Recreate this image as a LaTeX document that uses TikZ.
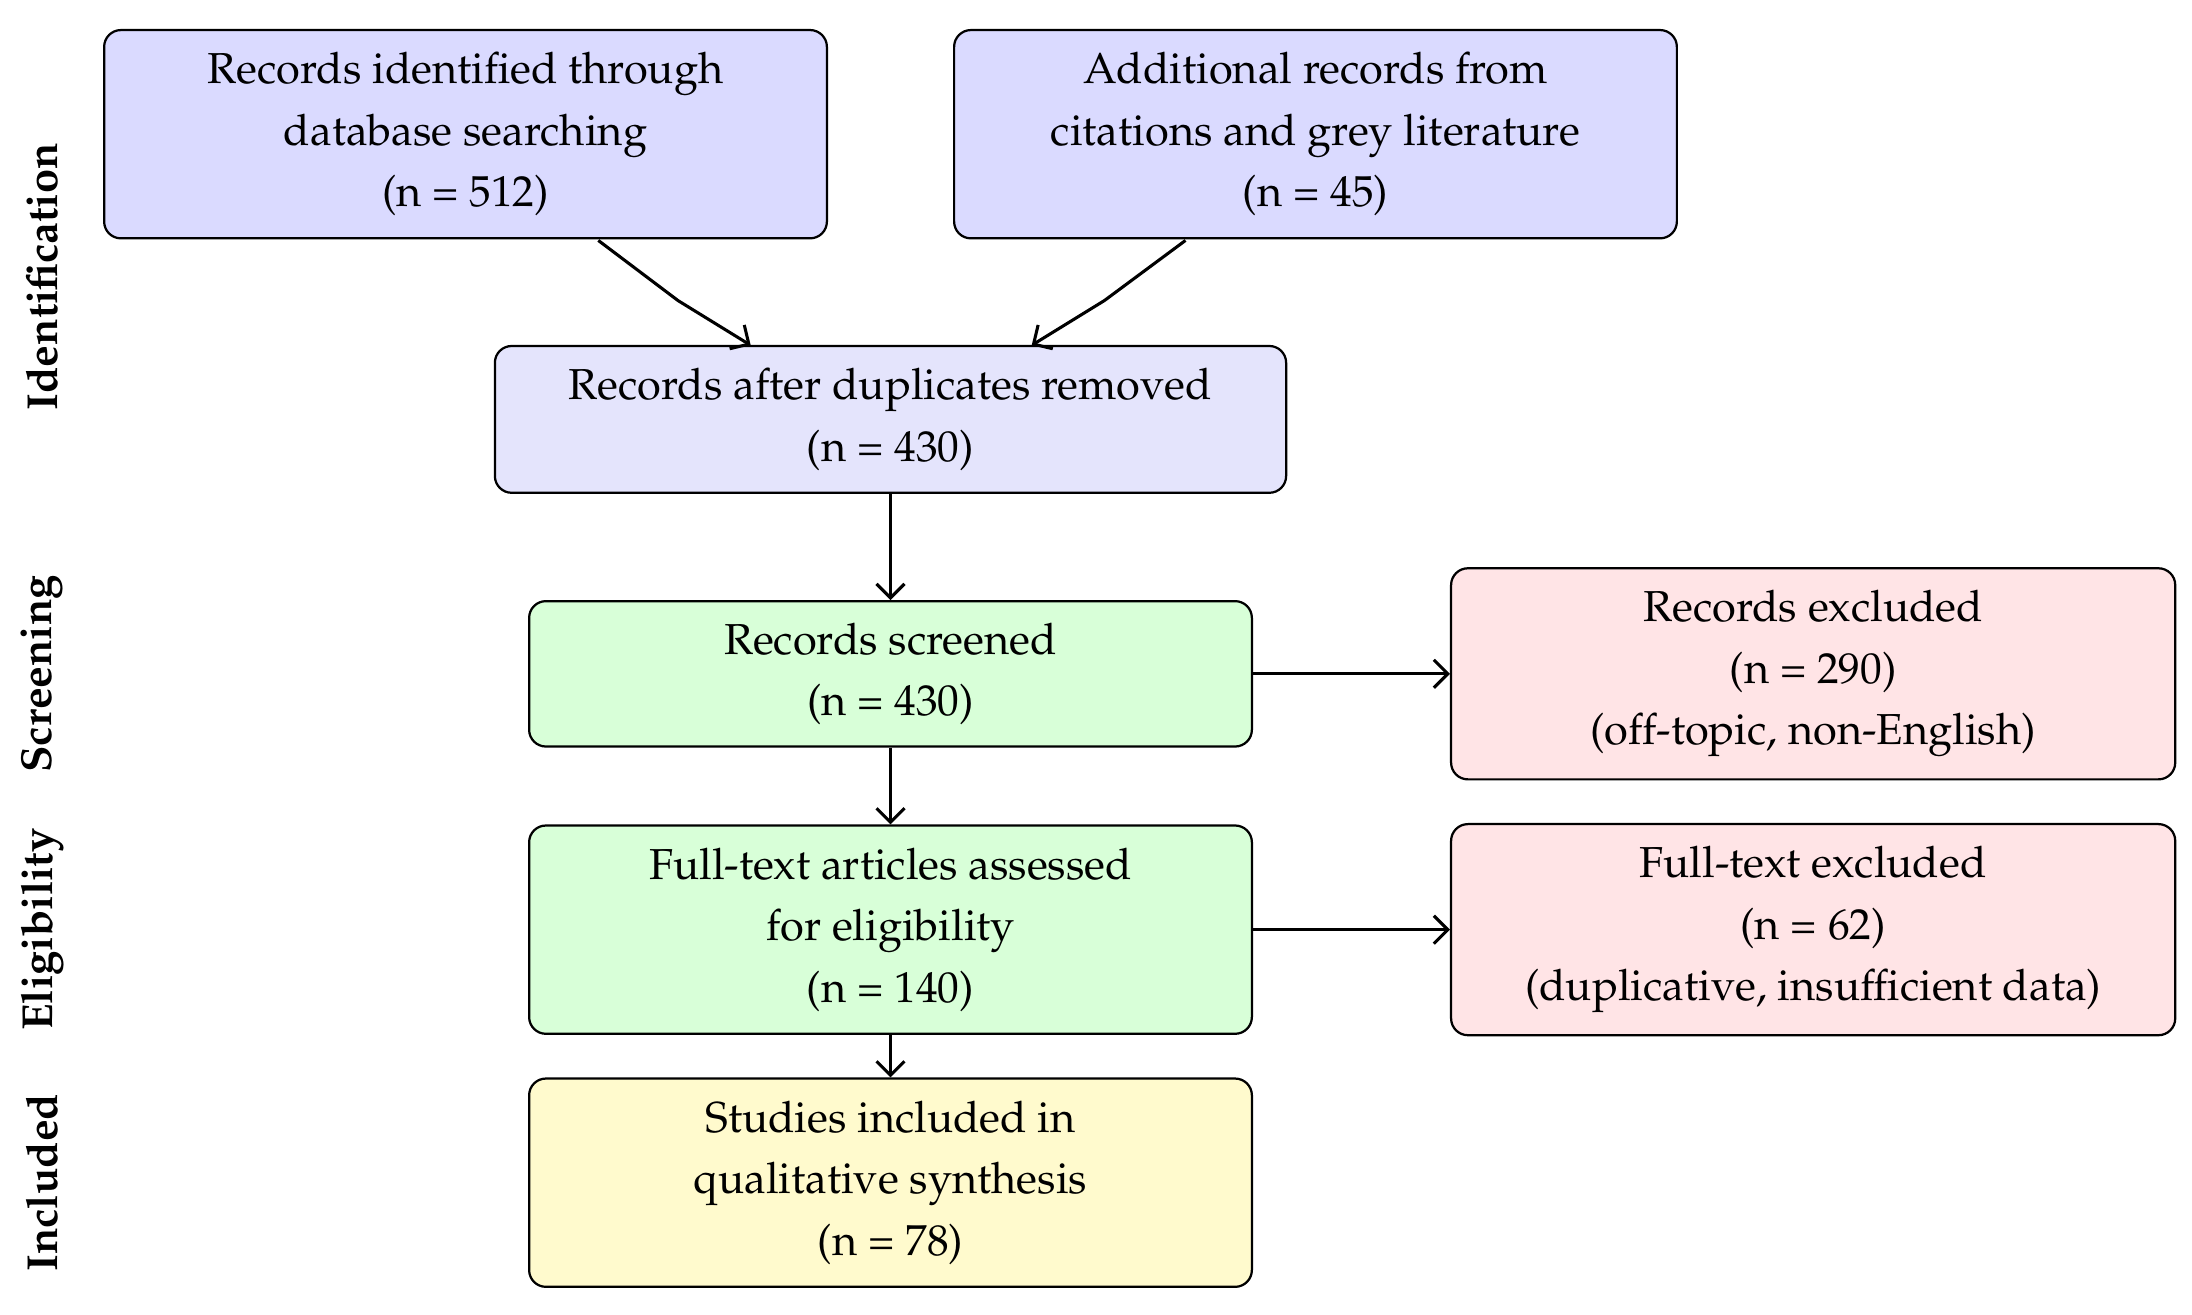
\documentclass[tikz,border=0pt]{standalone}
\usepackage[T1]{fontenc}
\usepackage{mathpazo}
\usetikzlibrary{arrows.meta}
\definecolor{cblue}{RGB}{218,218,255}
\definecolor{cblue2}{RGB}{228,228,252}
\definecolor{cgreen}{RGB}{216,255,216}
\definecolor{cred}{RGB}{255,228,230}
\definecolor{cyel}{RGB}{255,250,205}
\begin{document}
\begin{tikzpicture}[x=1pt,y=-1pt,
 box/.style={draw,line width=1.6pt,rounded corners=12pt,align=center,inner sep=0pt,
   font=\fontsize{31}{44}\selectfont},
 arr/.style={line width=2.2pt,-{Straight Barb[length=10pt,width=20pt,line width=2.2pt]}},
 side/.style={rotate=90,font=\fontsize{31}{36}\selectfont\bfseries}]
\useasboundingbox (0,0) rectangle (1568,940);
\node[box,fill=cblue,minimum width=517pt,minimum height=149pt] (A) at (333,96) {Records identified through\\database searching\\(n = 512)};
\node[box,fill=cblue,minimum width=517pt,minimum height=149pt] (B) at (941,96) {Additional records from\\citations and grey literature\\(n = 45)};
\node[box,fill=cblue2,minimum width=566pt,minimum height=105pt] (C) at (637,300) {Records after duplicates removed\\(n = 430)};
\node[box,fill=cgreen,minimum width=517pt,minimum height=104pt] (D) at (637,482) {Records screened\\(n = 430)};
\node[box,fill=cred,minimum width=518pt,minimum height=151pt] (E) at (1297,482) {Records excluded\\(n = 290)\\(off-topic, non-English)};
\node[box,fill=cgreen,minimum width=517pt,minimum height=149pt] (F) at (637,665) {Full-text articles assessed\\for eligibility\\(n = 140)};
\node[box,fill=cred,minimum width=518pt,minimum height=151pt] (G) at (1297,665) {Full-text excluded\\(n = 62)\\(duplicative, insufficient data)};
\node[box,fill=cyel,minimum width=517pt,minimum height=149pt] (H) at (637,846) {Studies included in\\qualitative synthesis\\(n = 78)};
\coordinate (a1) at (428,172); \coordinate (a2) at (485,215); \coordinate (a3) at (537,247);
\coordinate (b1) at (848,172); \coordinate (b2) at (790,215); \coordinate (b3) at (738,247);
\draw[arr] (a1) -- (a2) -- (a3);
\draw[arr] (b1) -- (b2) -- (b3);
\draw[arr] (C) -- (D);
\draw[arr] (D) -- (E);
\draw[arr] (D) -- (F);
\draw[arr] (F) -- (G);
\draw[arr] (F) -- (H);
\node[side] (s1) at (30,198) {Identification};
\node[side] (s2) at (30,482) {Screening};
\node[side] (s3) at (30,665) {Eligibility};
\node[side] (s4) at (30,846) {Included};
\end{tikzpicture}
\end{document}
